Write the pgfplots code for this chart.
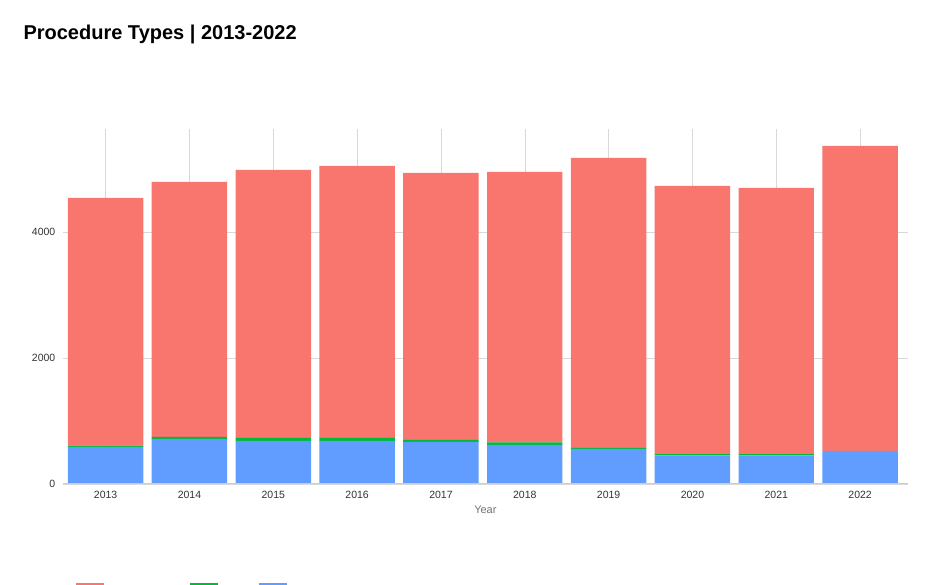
\documentclass[border=0pt]{standalone}
\usepackage{pgfplots}
\pgfplotsset{compat=1.18}
\usepackage{fontspec}
\setmainfont{Liberation Sans}
\definecolor{gov}{HTML}{F8766D}
\definecolor{joint}{HTML}{00BA38}
\definecolor{unh}{HTML}{619CFF}
\begin{document}
\begin{tikzpicture}[x=1pt,y=1pt]
\node[anchor=west,font=\bfseries\fontsize{20}{24}\selectfont] at (20,550) {Procedure Types | 2013-2022};
\begin{axis}[at={(75,159)},anchor=south west,scale only axis,width=845,height=355,
 ybar stacked, bar width=0.9, xmin=-0.51, xmax=9.57, ymin=0, ymax=5634,
 xtick={0,...,9}, xticklabels={2013,2014,2015,2016,2017,2018,2019,2020,2021,2022},
 ytick={0,2000,4000}, yticklabels={0,2000,4000},
 axis line style={draw=none}, axis x line*=bottom,
 xmajorgrids, ymajorgrids, grid style={gray!30,line width=0.5pt},
 major tick length=4pt, ytick style={draw=none}, xtick style={gray!60},
 tick label style={font=\fontsize{10.5}{12}\selectfont,text=black!80},
 xticklabel style={yshift=-4pt}, yticklabel style={xshift=-4pt},
 /pgf/number format/assume math mode=true,
 xlabel={Year}, xlabel style={font=\fontsize{11}{13}\selectfont,text=black!55,yshift=0pt},
 legend columns=-1,
 legend style={draw=none,at={(0.012,-0.315)},anchor=west,font=\fontsize{13}{15}\selectfont,
   /tikz/every even column/.append style={column sep=10pt}},
 legend image code/.code={\fill[#1,draw=none] (0pt,-9pt) rectangle (28pt,17pt);},
 ]
\draw[gray!40,line width=0.7pt] (rel axis cs:0,0) -- (rel axis cs:1,0);
\addlegendimage{fill=gov,draw=none}
\addlegendimage{fill=joint,draw=none}
\addlegendimage{fill=unh,draw=none}
\addplot[fill=unh,draw=none,forget plot] coordinates {(0,587)(1,714)(2,682)(3,682)(4,667)(5,619)(6,556)(7,450)(8,450)(9,524)};
\addplot[fill=joint,draw=none,forget plot] coordinates {(0,20)(1,32)(2,48)(3,48)(4,31)(5,37)(6,15)(7,21)(8,21)(9,0)};
\addplot[fill=gov,draw=none,forget plot] coordinates {(0,3932)(1,4047)(2,4254)(3,4317)(4,4238)(5,4296)(6,4603)(7,4259)(8,4227)(9,4841)};
\legend{Government,Joint,UNHCR}
\end{axis}
\pgfresetboundingbox
\path (0,0) rectangle (944,584);
\end{tikzpicture}
\end{document}
